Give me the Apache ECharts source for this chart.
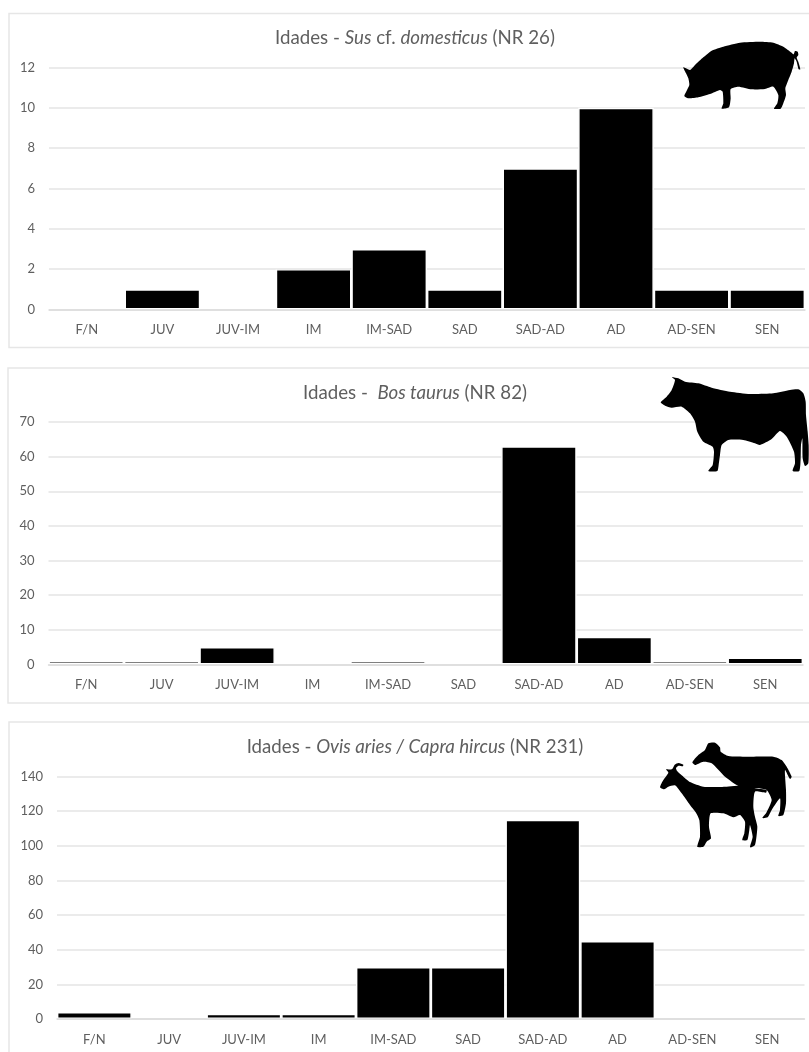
<!DOCTYPE html>
<html>
<head>
<meta charset="utf-8">
<style>
  html, body { margin: 0; padding: 0; background: #fff; }
  #chart { width: 809px; height: 1052px; }
</style>
<script src="https://cdn.jsdelivr.net/npm/echarts@6/dist/echarts.min.js"></script>
</head>
<body>
<div id="chart"></div>
<script>
// Age classes shared by the three species panels
const ageClasses = ['F/N', 'JUV', 'JUV-IM', 'IM', 'IM-SAD', 'SAD', 'SAD-AD', 'AD', 'AD-SEN', 'SEN'];

// Number of remains per age class
const susValues  = [0, 1, 0, 2, 3, 1, 7, 10, 1, 1];
const bosValues  = [1, 1, 5, 0, 1, 0, 63, 8, 1, 2];
const ovisValues = [4, 0, 3, 3, 30, 30, 115, 45, 0, 0];

// Panel titles ({i|...} marks the italic taxon names)
const susTitle  = 'Idades - {i|Sus} cf. {i|domesticus} (NR 26)';
const bosTitle  = 'Idades -  {i|Bos taurus} (NR 82)';
const ovisTitle = 'Idades - {i|Ovis aries / Capra hircus} (NR 231)';

// Value-axis ranges
const susAxis  = { max: 12,  interval: 2 };
const bosAxis  = { max: 70,  interval: 10 };
const ovisAxis = { max: 140, interval: 20 };

// Animal silhouettes, outlined at 3x and scaled down when placed
const pigOutline = '130 142,150 150,165 135,190 112,215 92,250 80,300 68,360 65,400 68,430 80,455 98,461 103,465 93,473 95,475 105,470 113,475 125,481 148,476 148,470 125,464 115,462 130,455 155,445 180,436 205,438 225,430 250,422 266,402 266,412 250,415 225,400 200,375 207,335 208,295 200,272 207,272 235,267 262,245 266,250 250,248 215,240 210,210 222,175 232,145 235,133 228,140 212,148 195,145 175,138 160';
const cowOutline = '95 37,115 40,135 50,175 55,215 68,270 80,330 87,400 85,450 75,475 73,490 85,497 110,498 150,503 200,506 240,505 295,495 303,488 280,487 220,483 240,482 280,478 318,458 318,465 295,462 260,440 215,420 198,395 222,360 240,345 235,310 225,265 225,245 240,240 270,236 300,232 318,205 318,218 300,222 260,218 245,190 230,172 200,165 170,150 145,125 125,95 128,75 122,62 112,80 95,95 75,105 45';
const sheepOutline = '205 40,225 38,240 52,242 65,265 78,320 80,400 80,425 90,440 110,455 140,450 147,435 120,438 180,438 220,430 255,415 258,420 240,420 205,395 240,383 262,367 264,378 250,395 210,380 180,350 175,300 170,255 140,215 100,190 95,165 105,157 97,175 75,195 60';
const goatOutline = '96 118,104 104,116 99,130 104,128 109,116 107,108 114,112 124,130 140,150 156,190 170,260 170,330 165,345 175,380 180,378 188,345 185,340 230,345 260,352 290,345 345,330 352,338 320,330 285,328 300,322 330,307 330,313 310,315 275,300 255,280 262,250 250,212 250,207 290,213 325,200 335,190 350,172 350,180 320,178 270,168 248,150 225,125 190,105 166,85 170,72 178,60 172,70 150,85 128,78 118';

const FONT = 'Lato, "Open Sans", sans-serif';
const TEXT = '#5f5f5f';
const RULE = '#e4e4e4';

const panels = [
  { title: susTitle,  titleY: 23,  values: susValues,  axis: susAxis,  left: 49,   right: 805, top: 67.5,  bottom: 309.5 },
  { title: bosTitle,  titleY: 378, values: bosValues,  axis: bosAxis,  left: 48.5, right: 803, top: 422,   bottom: 664.5 },
  { title: ovisTitle, titleY: 732, values: ovisValues, axis: ovisAxis, left: 57,   right: 804.5, top: 776.5, bottom: 1019 }
];

// Places one outline as a filled polygon
function silhouette(outline, x, y) {
  return {
    type: 'polygon', z: 20, x, y, scaleX: 1 / 3, scaleY: 1 / 3,
    shape: { points: outline.split(',').map(p => p.split(' ').map(Number)), smooth: 0.2 },
    style: { fill: '#000' }
  };
}

const option = {
  backgroundColor: '#fff',
  animation: false,
  title: panels.map(p => ({
    text: p.title,
    left: 410,
    top: p.titleY,
    textAlign: 'center',
    textStyle: {
      fontFamily: FONT, fontSize: 18.7, fontWeight: 'normal', color: TEXT,
      rich: { i: { fontFamily: FONT, fontSize: 18.7, fontStyle: 'italic', color: TEXT } }
    }
  })),
  grid: panels.map(p => ({
    left: p.left, top: p.top, width: p.right - p.left, height: p.bottom - p.top
  })),
  xAxis: panels.map((p, i) => ({
    type: 'category', gridIndex: i, data: ageClasses, z: 5,
    axisTick: { show: false },
    axisLine: { lineStyle: { color: '#dcdcdc', width: 1.5 } },
    axisLabel: { fontFamily: FONT, fontSize: 13, color: TEXT, margin: 14, interval: 0 }
  })),
  yAxis: panels.map((p, i) => ({
    type: 'value', gridIndex: i, min: 0, max: p.axis.max, interval: p.axis.interval,
    axisLine: { show: false },
    axisTick: { show: false },
    splitLine: { lineStyle: { color: RULE, width: 1.5 } },
    axisLabel: { fontFamily: FONT, fontSize: 13, color: TEXT, margin: 14 }
  })),
  series: panels.map((p, i) => ({
    type: 'bar', xAxisIndex: i, yAxisIndex: i, barWidth: '100%', silent: true,
    itemStyle: { color: '#000', borderColor: '#fff', borderWidth: 1.4 },
    // empty classes get no outline, so the baseline stays unbroken there
    data: p.values.map(v => v === 0 ? { value: 0, itemStyle: { borderWidth: 0 } } : v)
  })),
  graphic: [
    // panel frames, open past the right edge of the page
    { type: 'rect', z: -1, shape: { x: 9, y: 13.5, width: 820, height: 334 }, style: { fill: '#fff', stroke: '#e6e6e6', lineWidth: 1.5 } },
    { type: 'rect', z: -1, shape: { x: 8, y: 368, width: 820, height: 335 }, style: { fill: '#fff', stroke: '#e6e6e6', lineWidth: 1.5 } },
    { type: 'rect', z: -1, shape: { x: 9, y: 722, width: 820, height: 360 }, style: { fill: '#fff', stroke: '#e6e6e6', lineWidth: 1.5 } },
    silhouette(pigOutline, 640, 20),
    silhouette(cowOutline, 640, 365),
    silhouette(sheepOutline, 640, 730),
    silhouette(goatOutline, 640, 730)
  ]
};

echarts.init(document.getElementById('chart'), null, { renderer: 'canvas' }).setOption(option);
</script>
</body>
</html>
